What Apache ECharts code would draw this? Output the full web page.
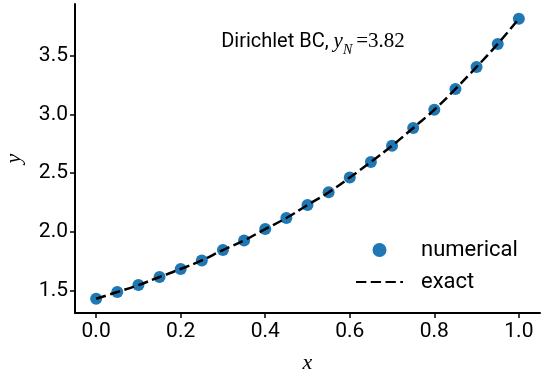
<!DOCTYPE html>
<html>
<head>
<meta charset="utf-8">
<script src="https://cdn.jsdelivr.net/npm/echarts@6/dist/echarts.min.js"></script>
<style>html,body{margin:0;padding:0;background:#fff}#c{width:545px;height:379px}</style>
</head>
<body>
<div id="c"></div>
<script>
var xValues = [0.0,0.05,0.1,0.15,0.2,0.25,0.3,0.35,0.4,0.45,0.5,0.55,0.6,0.65,0.7,0.75,0.8,0.85,0.9,0.95,1.0];
var numerical = [1.432,1.489,1.548,1.617,1.685,1.758,1.846,1.928,2.025,2.119,2.229,2.337,2.463,2.596,2.734,2.885,3.040,3.217,3.404,3.600,3.815];
var exact = [1.432,1.489,1.548,1.617,1.685,1.758,1.846,1.928,2.025,2.119,2.229,2.337,2.463,2.596,2.734,2.885,3.040,3.217,3.404,3.600,3.815];
var xTicks = [0.0,0.2,0.4,0.6,0.8,1.0];
var yTicks = [1.5,2.0,2.5,3.0,3.5];

var chart = echarts.init(document.getElementById('c'), null, {renderer:'canvas'});
function pairs(v){ return xValues.map(function(x,i){return [x,v[i]];}); }
var tickFont = {color:'#000', fontSize:21, fontFamily:'Roboto'};
chart.setOption({
  animation:false,
  backgroundColor:'#fff',
  grid:{left:75, top:4, width:465, height:309, containLabel:false, outerBoundsMode:'none'},
  title:{
    left:308, top:25, textAlign:'center',
    text:'{a|Dirichlet BC, }{m|y}{s|N}{u|=3.82}',
    textStyle:{
      rich:{
        a:{fontFamily:'Roboto', fontWeight:'normal', fontSize:20, color:'#000', lineHeight:22, verticalAlign:'bottom'},
        m:{fontFamily:'Liberation Serif', fontWeight:'normal', fontStyle:'italic', fontSize:21, color:'#000', lineHeight:22, verticalAlign:'bottom'},
        s:{fontFamily:'Liberation Serif', fontWeight:'normal', fontStyle:'italic', fontSize:14, color:'#000', lineHeight:16, verticalAlign:'bottom', padding:[0,4,-5,0]},
        u:{fontFamily:'Liberation Serif', fontWeight:'normal', fontSize:21, color:'#000', lineHeight:22, verticalAlign:'bottom'}
      }
    }
  },
  legend:{
    orient:'vertical', left:355, top:239, padding:0,
    itemWidth:47, itemHeight:14, itemGap:10,
    textStyle:{color:'#000', fontSize:22, fontFamily:'Roboto', padding:[0,0,0,13]},
    data:[{name:'numerical', icon:'circle', itemStyle:{color:'#1f77b4'}},{name:'exact', itemStyle:{opacity:0}}]
  },
  xAxis:{
    type:'value', min:-0.05, max:1.05,
    name:'x', nameLocation:'middle', nameGap:39,
    nameTextStyle:{fontFamily:'Liberation Serif', fontStyle:'italic', fontSize:22, color:'#000'},
    axisLine:{onZero:false, lineStyle:{color:'#000', width:2}},
    axisTick:{show:true, inside:false, length:5, lineStyle:{color:'#000', width:1.5}, customValues:xTicks},
    axisLabel:Object.assign({margin:8, customValues:xTicks, formatter:function(v){return v.toFixed(1);}}, tickFont),
    splitLine:{show:false}
  },
  yAxis:{
    type:'value', min:1.3105, max:3.9395,
    name:'y', nameLocation:'middle', nameGap:50,
    nameTextStyle:{fontFamily:'Liberation Serif', fontStyle:'italic', fontSize:22, color:'#000'},
    axisLine:{show:true, onZero:false, lineStyle:{color:'#000', width:2}},
    axisTick:{show:true, inside:false, length:5, lineStyle:{color:'#000', width:1.5}, customValues:yTicks},
    axisLabel:Object.assign({margin:7, customValues:yTicks, formatter:function(v){return v.toFixed(1);}}, tickFont),
    splitLine:{show:false}
  },
  series:[
    {name:'numerical', type:'scatter', data:pairs(numerical), symbol:'circle', symbolSize:12,
     itemStyle:{color:'#1f77b4', opacity:1}, z:2},
    {name:'exact', type:'line', data:pairs(exact), smooth:true, showSymbol:false, symbol:'none',
     lineStyle:{color:'#000', width:2.5, type:[10.3,4.45]}, itemStyle:{color:'#000'}, z:3}
  ]
});
</script>
</body>
</html>
